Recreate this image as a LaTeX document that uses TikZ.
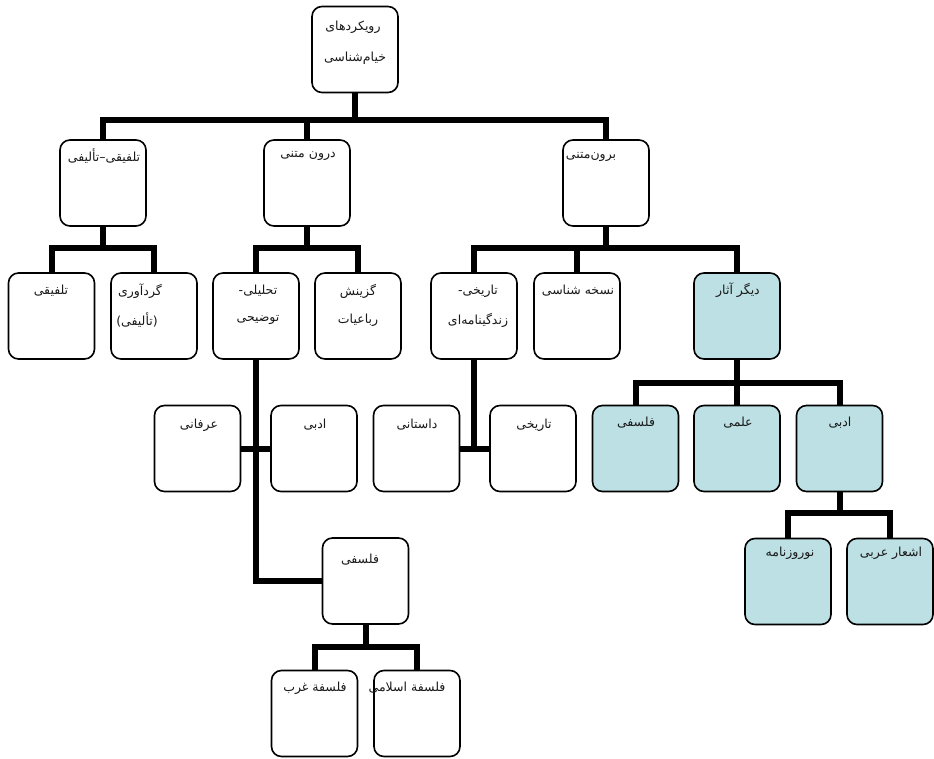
\documentclass[tikz,border=0pt]{standalone}
\usepackage{fontspec}
\newfontfamily\arabicfont[Script=Arabic]{DejaVu Sans}
\TeXXeTstate=1
\definecolor{boxblue}{RGB}{188,224,227}
\begin{document}
\begin{tikzpicture}[x=1pt,y=-1pt,
  box/.style={draw, line width=1.6pt, rounded corners=10pt, minimum width=86pt, minimum height=86pt, inner sep=0pt, fill=white},
  bluebox/.style={box, fill=boxblue},
  conn/.style={line width=6pt},
  lbl/.style={font=\arabicfont\fontsize{12.5}{14}\selectfont, inner sep=0pt, text=black!90}]
\useasboundingbox (0,0) rectangle (934,759);
% boxes
\node[box] (root) at (355,49.5) {};
\node[box] (a) at (103,183) {};
\node[box] (b) at (307,183) {};
\node[box] (c) at (606,183) {};
\node[box] (a1) at (51.5,316) {};
\node[box] (a2) at (154,316) {};
\node[box] (b1) at (256,316) {};
\node[box] (b2) at (358,316) {};
\node[box] (c1) at (474,316) {};
\node[box] (c2) at (577,316) {};
\node[bluebox] (c3) at (737,316) {};
\node[box] (b11) at (197.5,448.5) {};
\node[box] (b12) at (314,448.5) {};
\node[box] (c11) at (416.5,448.5) {};
\node[box] (c12) at (533,448.5) {};
\node[bluebox] (c31) at (635.5,448.5) {};
\node[bluebox] (c32) at (737,448.5) {};
\node[bluebox] (c33) at (839.5,448.5) {};
\node[bluebox] (c331) at (788,581.5) {};
\node[bluebox] (c332) at (890,581.5) {};
\node[box] (b13) at (365.5,581) {};
\node[box] (b131) at (314.5,713.5) {};
\node[box] (b132) at (417,713.5) {};
% connectors
\coordinate (j0) at (355,120);
\draw[conn] (root.south) -- (j0);
\draw[conn] (a.north) |- (j0) -| (c.north);
\draw[conn] (b.north) -- (b.north |- j0);
\coordinate (ja) at (103,248);
\draw[conn] (a.south) -- (ja);
\draw[conn] (a1.north) |- (ja) -| (a2.north);
\coordinate (jb) at (307,248);
\draw[conn] (b.south) -- (jb);
\draw[conn] (b1.north) |- (jb) -| (b2.north);
\coordinate (jc) at (606,248);
\draw[conn] (c.south) -- (jc);
\draw[conn] (c1.north) |- (jc) -| (c3.north);
\draw[conn] (c2.north) -- (c2.north |- jc);
\coordinate (jc3) at (737,383);
\draw[conn] (c3.south) -- (c32.north);
\draw[conn] (c31.north) |- (jc3) -| (c33.north);
\coordinate (jc33) at (839.5,513);
\draw[conn] (c33.south) -- (jc33);
\draw[conn] (c331.north) |- (jc33) -| (c332.north);
\draw[conn] (b1.south) |- (b13.west);
\draw[conn] (b11.east) -- (b12.west);
\draw[conn] (c1.south) -- (c1.south |- c12.west);
\draw[conn] (c11.east) -- (c12.west);
\coordinate (jb13) at (365.5,647);
\draw[conn] (b13.south) -- (jb13);
\draw[conn] (b131.north) |- (jb13) -| (b132.north);
% labels
\node[lbl] (t0a) at (353,27) {\beginR رویکردهای\endR};
\node[lbl] (t0b) at (355,58) {\beginR خیام‌شناسی\endR};
\node[lbl] (ta) at (104,156) {\beginR تلفیقی–تألیفی\endR};
\node[lbl] (tb) at (308,156) {\beginR درون متنی\endR};
\node[lbl] (tc) at (591,157) {\beginR برون‌متنی\endR};
\node[lbl] (ta1) at (51,291) {\beginR تلفیقی\endR};
\node[lbl] (ta2a) at (140,291) {\beginR گردآوری\endR};
\node[lbl] (ta2b) at (137,320) {\beginR (تألیفی)\endR};
\node[lbl] (tb1a) at (258,291) {\beginR تحلیلی-\endR};
\node[lbl] (tb1b) at (258,320) {\beginR توضیحی\endR};
\node[lbl] (tb2a) at (358,291) {\beginR گزینش\endR};
\node[lbl] (tb2b) at (358,320) {\beginR رباعیات\endR};
\node[lbl] (tc1a) at (478,291) {\beginR تاریخی-\endR};
\node[lbl] (tc1b) at (478,320) {\beginR زندگینامه‌ای\endR};
\node[lbl] (tc2) at (578,291) {\beginR نسخه شناسی\endR};
\node[lbl] (tc3) at (738,290) {\beginR دیگر آثار\endR};
\node[lbl] (tb11) at (199,425) {\beginR عرفانی\endR};
\node[lbl] (tb12) at (315,425) {\beginR ادبی\endR};
\node[lbl] (tc11) at (417,425) {\beginR داستانی\endR};
\node[lbl] (tc12) at (534,425) {\beginR تاریخی\endR};
\node[lbl] (tc31) at (636,423) {\beginR فلسفی\endR};
\node[lbl] (tc32) at (738,423) {\beginR علمی\endR};
\node[lbl] (tc33) at (840,423) {\beginR ادبی\endR};
\node[lbl] (tc331) at (790,553) {\beginR نوروزنامه\endR};
\node[lbl] (tc332) at (891,553) {\beginR اشعار عربی\endR};
\node[lbl] (tb13) at (360,560) {\beginR فلسفی\endR};
\node[lbl] (tb131) at (315,688) {\beginR فلسفة غرب\endR};
\node[lbl] (tb132) at (407,688) {\beginR فلسفة اسلامی\endR};
\end{tikzpicture}
\end{document}
